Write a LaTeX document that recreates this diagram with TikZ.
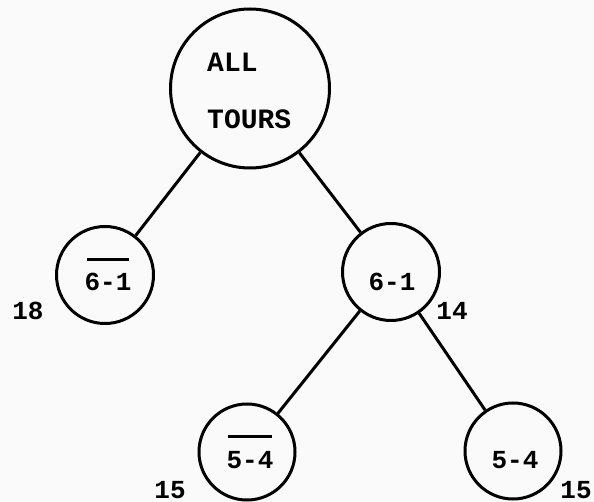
\documentclass[tikz,border=0pt]{standalone}
\usepackage{fontspec}
\setmonofont{Liberation Mono}
\begin{document}
\begin{tikzpicture}[x=1pt,y=-1pt,
  circ/.style={circle,draw,line width=3pt,inner sep=0pt,minimum size=#1},
  lbl/.style={inner sep=0pt,font=\ttfamily\bfseries\fontsize{26}{26}\selectfont},
  big/.style={inner sep=0pt,font=\ttfamily\bfseries\fontsize{28}{28}\selectfont},
  edge/.style={line width=3pt}]
\path[fill=gray!4] (0,0) rectangle (594,502);
\useasboundingbox (0,0) rectangle (594,502);
% circles
\node[circ=159pt] (root) at (250,88.5) {};
\node[circ=97pt] (l) at (105,275) {};
\node[circ=97pt] (r) at (391,272) {};
\node[circ=96pt] (bl) at (247,452) {};
\node[circ=96pt] (br) at (513,451) {};
% edges
\draw[edge] (root) -- (l);
\draw[edge] (root) -- (r);
\draw[edge] (r) -- (bl);
\draw[edge] (r) -- (br);
% texts
\node[big,anchor=base west] (all) at (207,72) {ALL};
\node[big,anchor=base west] (tours) at (207,129) {TOURS};
\node[lbl,anchor=base] (tl) at (108,291) {\vbox{\offinterlineskip\halign{\hfil#\hfil\cr\vrule height 3pt width 42pt\cr\noalign{\vskip 13pt}6-1\cr}}};
\node[lbl,anchor=base] (tr) at (392,291) {6-1};
\node[lbl,anchor=base] (tbl) at (250,468) {\vbox{\offinterlineskip\halign{\hfil#\hfil\cr\vrule height 3pt width 44pt\cr\noalign{\vskip 13pt}5-4\cr}}};
\node[lbl,anchor=base] (tbr) at (515,468) {5-4};
\node[lbl,anchor=base] (n18) at (28,320) {18};
\node[lbl,anchor=base] (n14) at (452,320) {14};
\node[lbl,anchor=base] (n15a) at (170,498) {15};
\node[lbl,anchor=base] (n15b) at (576,498) {15};
\end{tikzpicture}
\end{document}
